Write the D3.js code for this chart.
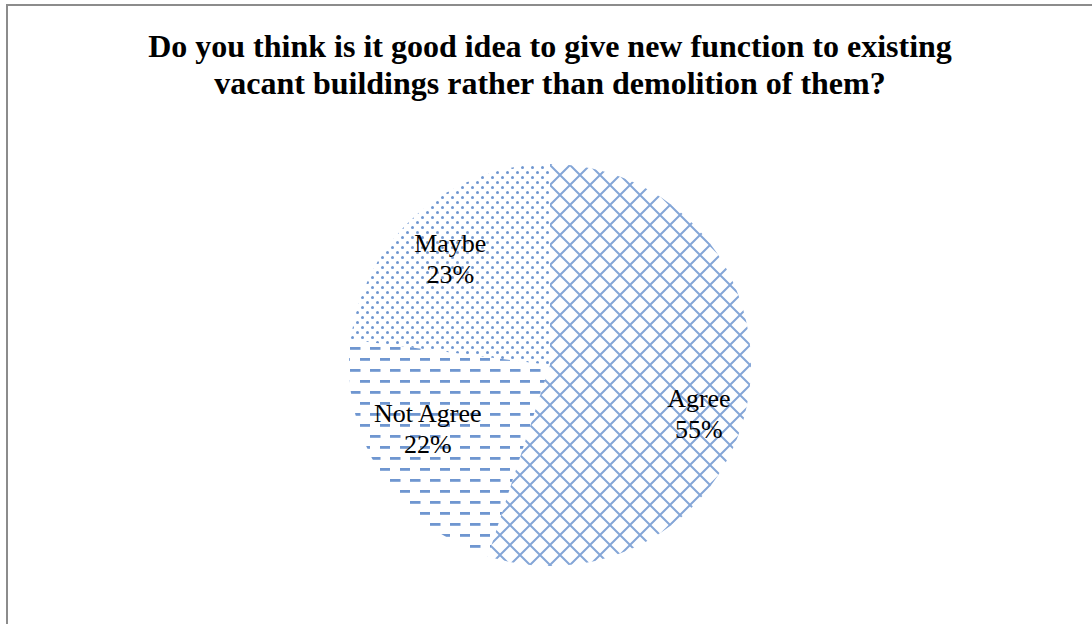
<!DOCTYPE html>
<html>
<head>
<meta charset="utf-8">
<script src="https://cdn.jsdelivr.net/npm/d3@7"></script>
<style>
  html, body { margin: 0; padding: 0; background: #fff; }
  svg { display: block; }
</style>
</head>
<body>
<svg id="chart" width="1092" height="624"></svg>
<script>
// Survey answers
const categories = ["Agree", "Not Agree", "Maybe"];
const values = [55, 22, 23];
const titleLines = [
  "Do you think is it good idea to give new function to existing",
  "vacant buildings rather than demolition of them?"
];

const W = 1092, H = 624;
const svg = d3.select("#chart");
const blue = "#6f96d0";
const serif = "'Liberation Serif', 'Times New Roman', serif";

// Frame of the chart area
svg.append("path")
  .attr("d", `M7,${H} V5 H${W}`)
  .attr("fill", "none")
  .attr("stroke", "#8c8c8c")
  .attr("stroke-width", 2);

// Fill patterns
const defs = svg.append("defs");

// Agree: diagonal cross-hatch
const ph = defs.append("pattern")
  .attr("id", "pat-hatch")
  .attr("patternUnits", "userSpaceOnUse")
  .attr("width", 20).attr("height", 20);
ph.append("path")
  .attr("d", "M0,0 L20,20 M20,0 L0,20 M-10,10 L10,30 M10,-10 L30,10 M-10,10 L10,-10 M10,30 L30,10")
  .attr("stroke", blue).attr("stroke-width", 2).attr("fill", "none")
  .attr("opacity", 0.85);

// Not Agree: staggered horizontal dashes
const pd = defs.append("pattern")
  .attr("id", "pat-dash")
  .attr("patternUnits", "userSpaceOnUse")
  .attr("width", 20).attr("height", 22);
pd.append("rect").attr("x", 0).attr("y", 4).attr("width", 10.5).attr("height", 2.8).attr("fill", blue);
pd.append("rect").attr("x", 10).attr("y", 15).attr("width", 10.5).attr("height", 2.8).attr("fill", blue);

// Maybe: small dots
const pdot = defs.append("pattern")
  .attr("id", "pat-dot")
  .attr("patternUnits", "userSpaceOnUse")
  .attr("width", 10).attr("height", 10);
pdot.append("circle").attr("cx", 2.5).attr("cy", 2.5).attr("r", 1.5).attr("fill", blue);
pdot.append("circle").attr("cx", 7.5).attr("cy", 7.5).attr("r", 1.5).attr("fill", blue);

const patterns = ["url(#pat-hatch)", "url(#pat-dash)", "url(#pat-dot)"];

// Title
const title = svg.append("text")
  .attr("x", 550).attr("y", 57)
  .attr("text-anchor", "middle")
  .attr("font-family", serif)
  .attr("font-weight", "bold")
  .attr("font-size", 32)
  .attr("fill", "#000");
titleLines.forEach((t, i) => {
  title.append("tspan").attr("x", 550).attr("dy", i === 0 ? 0 : 37).text(t);
});

// Pie
const cx = 550, cy = 365, r = 201;
const data = categories.map((c, i) => ({ name: c, value: values[i] }));
const pie = d3.pie().value(d => d.value).sort(null);
const arcs = pie(data);
const arc = d3.arc().innerRadius(0).outerRadius(r);
const labelArc = d3.arc().innerRadius(r * 0.75).outerRadius(r * 0.75);

const g = svg.append("g").attr("transform", `translate(${cx},${cy})`);
g.selectAll("path.slice")
  .data(arcs)
  .join("path")
  .attr("class", "slice")
  .attr("d", arc)
  .attr("fill", (d, i) => patterns[i]);

// Slice labels (first-line baseline nudged off the centroid)
const labelOffsets = [[0, 18], [5, -24], [0, 0]];
const lab = g.selectAll("text.lab")
  .data(arcs)
  .join("text")
  .attr("class", "lab")
  .attr("text-anchor", "middle")
  .attr("font-family", serif)
  .attr("font-size", 26)
  .attr("fill", "#000")
  .attr("transform", (d, i) => {
    const [x, y] = labelArc.centroid(d);
    return `translate(${x + labelOffsets[i][0]},${y + labelOffsets[i][1]})`;
  });
lab.append("tspan").attr("x", 0).attr("y", 0).text(d => d.data.name);
lab.append("tspan").attr("x", 0).attr("y", 31).text(d => d.data.value + "%");
</script>
</body>
</html>
